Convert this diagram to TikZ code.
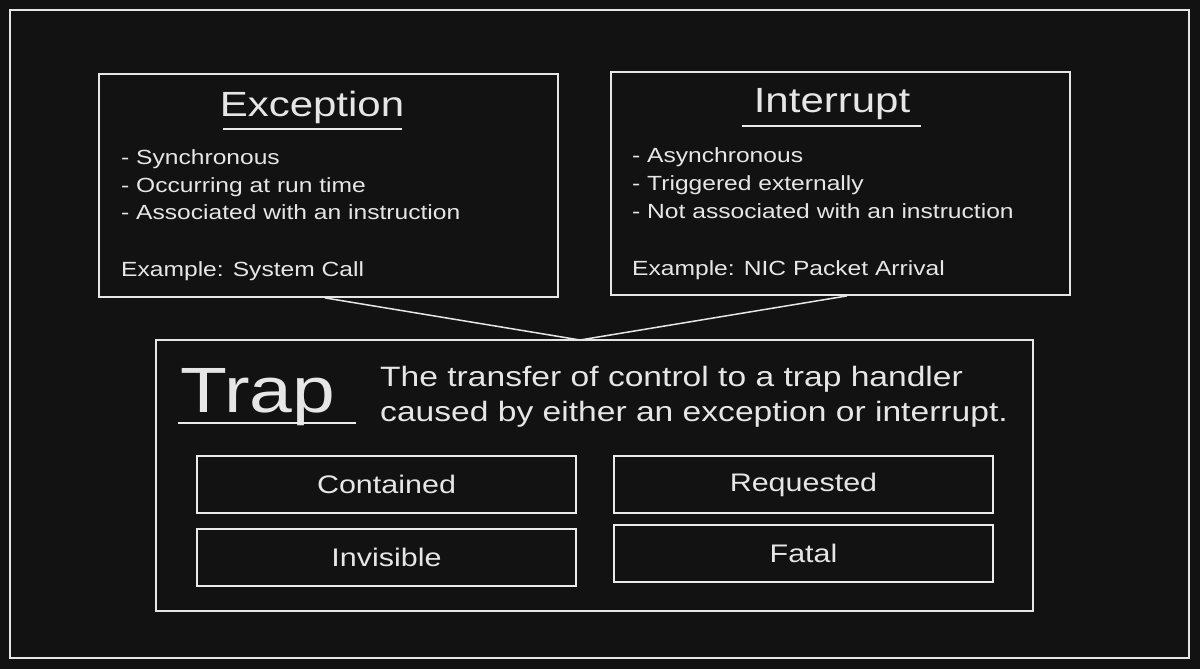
\documentclass[tikz,border=0pt]{standalone}
\usepackage{fontspec}
\setmainfont{Liberation Sans}[FakeStretch=1.2]
\usetikzlibrary{calc}
\definecolor{bg}{HTML}{121212}
\definecolor{ink}{HTML}{E6E6E6}
\tikzset{
  frame/.style={draw=ink, line width=2pt, minimum width=#1, inner sep=0pt},
  panel/.style={draw=ink, line width=1.8pt, inner sep=0pt},
  cell/.style={draw=ink!85, line width=1.3pt, inner sep=0pt, minimum width=379pt, minimum height=57pt,
     text=ink, font=\fontsize{25.4}{30}\selectfont},
  title/.style={text=ink, font=\fontsize{35}{40}\selectfont, inner sep=0pt},
  body/.style={text=ink, font=\fontsize{20.5}{28}\selectfont, inner sep=0pt, anchor=base west},
  uline/.style={draw=ink!80, line width=1.2pt},
  link/.style={draw=ink, line width=1.5pt},
}
\begin{document}
\begin{tikzpicture}[x=1pt,y=-1pt]
\fill[bg] (0,0) rectangle (1200,669);
\useasboundingbox (0,0) rectangle (1200,669);
\node[frame=1179pt, minimum height=648pt] (outer) at (599.5,334) {};
% panels
\node[panel, minimum width=459pt, minimum height=223pt] (exc) at (328.5,185.5) {};
\node[panel, minimum width=459pt, minimum height=223pt] (int) at (840.5,183.5) {};
\node[panel, minimum width=877pt, minimum height=271pt] (trap) at (594.5,475.5) {};
% exception text
\node[title] (exct) at (312,107) {Exception};
\draw[uline] (223,129) -- (402,129);
\node[body] (e1) at (121,164) {- Synchronous};
\node[body] (e2) at (121,192) {- Occurring at run time};
\node[body] (e3) at (121,219) {- Associated with an instruction};
\node[body] (e4) at (121,276) {Example: System Call};
% interrupt text
\node[title] (intt) at (832,104) {Interrupt};
\draw[uline] (742,126) -- (921,126);
\node[body] (i1) at (632,162) {- Asynchronous};
\node[body] (i2) at (632,190) {- Triggered externally};
\node[body] (i3) at (632,218) {- Not associated with an instruction};
\node[body] (i4) at (632,275) {Example: NIC Packet Arrival};
% connectors
\coordinate (join) at (580,340);
\draw[link] ($(exc.south)+(-3.5,0)$) -- (join) -- ($(int.south)+(6.5,0)$);
% trap
\node[text=ink, font=\fontsize{64}{68}\selectfont, inner sep=0pt, anchor=base west] (trapt) at (180,412) {Trap};
\draw[uline] (178,423) -- (356,423);
\node[body, font=\fontsize{28}{36}\selectfont] (d1) at (380,386) {The transfer of control to a trap handler};
\node[body, font=\fontsize{28}{36}\selectfont] (d2) at (380,421) {caused by either an exception or interrupt.};
% cells
\node[cell] (contained) at (386.5,484.5) {Contained};
\node[cell] (invisible) at (386.5,557.5) {Invisible};
\node[cell] (requested) at (803.5,484.5) {Requested};
\node[cell] (fatal) at (803.5,553.5) {Fatal};
\end{tikzpicture}
\end{document}
